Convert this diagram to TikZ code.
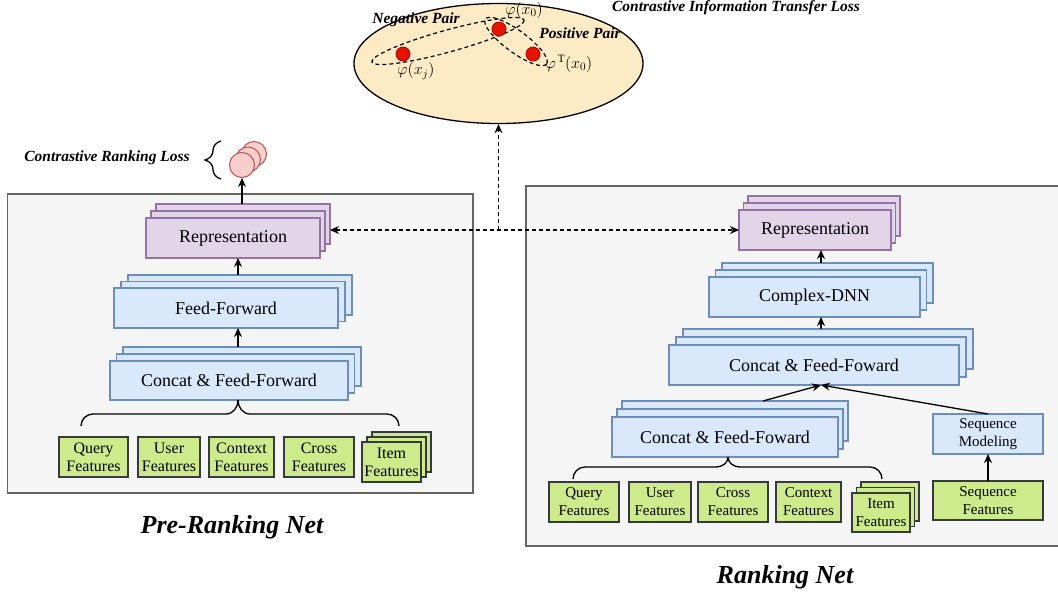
\documentclass[tikz,border=0pt]{standalone}
\usepackage{fix-cm}
\usepackage{fontspec}
\setmainfont{Liberation Serif}
\usetikzlibrary{arrows.meta,shapes.geometric,decorations.pathreplacing}
\definecolor{panelF}{HTML}{F5F5F5}
\definecolor{panelD}{HTML}{666666}
\definecolor{blueF}{HTML}{DAE8FC}
\definecolor{blueD}{HTML}{6C8EBF}
\definecolor{purpF}{HTML}{E1D5E7}
\definecolor{purpD}{HTML}{9673A6}
\definecolor{featF}{HTML}{CDEB8B}
\definecolor{featD}{HTML}{36393D}
\definecolor{lossF}{HTML}{F8CECC}
\definecolor{lossD}{HTML}{B85450}
\definecolor{ellF}{HTML}{FCEBC4}
\definecolor{dotF}{HTML}{E51400}
\definecolor{dotD}{HTML}{B20000}
\tikzset{
 base/.style={inner sep=0pt, outer sep=0pt, align=center},
 bluebox/.style={base, draw=blueD, fill=blueF, line width=1.3pt, font=\fontsize{18}{20}\selectfont},
 purpbox/.style={base, draw=purpD, fill=purpF, line width=1.3pt, font=\fontsize{18}{20}\selectfont},
 featbox/.style={base, draw=featD, fill=featF, line width=1.8pt, font=\fontsize{16}{18}\selectfont},
 featboxr/.style={featbox, font=\fontsize{15}{18}\selectfont},
 panel/.style={draw=panelD, fill=panelF, line width=1.3pt},
 arr/.style={line width=1.3pt, -{Stealth[length=9pt,width=8pt]}},
 darr/.style={line width=1.1pt, dash pattern=on 4pt off 3pt, -{Stealth[length=9pt,width=8pt]}},
 brc/.style={line width=1.3pt},
 dsh/.style={line width=1.2pt, dash pattern=on 4pt off 3pt},
 title/.style={font=\fontsize{15.5}{18}\selectfont\bfseries\itshape},
 bigtitle/.style={font=\fontsize{26}{30}\selectfont\bfseries\itshape},
 mathlbl/.style={font=\fontsize{16}{19}\selectfont, inner sep=0pt},
 lossc/.style={circle, draw=lossD, fill=lossF, line width=1pt, minimum size=25pt, inner sep=0pt},
 dot/.style={circle, draw=dotD, fill=dotF, line width=0.8pt, minimum size=14pt, inner sep=0pt},
}
% stacked box: name, style, x1, y1, x2, y2, dx, dy, text
\newcommand\stk[9]{%
 \node[#2, minimum width={(#5-#3)*1pt}, minimum height={(#6-#4)*1pt}] (#1-3) at ({(#3+#5)/2+2*#7},{(#4+#6)/2-2*#8}) {};
 \node[#2, minimum width={(#5-#3)*1pt}, minimum height={(#6-#4)*1pt}] (#1-2) at ({(#3+#5)/2+#7},{(#4+#6)/2-#8}) {};
 \node[#2, minimum width={(#5-#3)*1pt}, minimum height={(#6-#4)*1pt}] (#1) at ({(#3+#5)/2},{(#4+#6)/2}) {#9};
}
\newcommand\bx[7]{%
 \node[#2, minimum width={(#5-#3)*1pt}, minimum height={(#6-#4)*1pt}] (#1) at ({(#3+#5)/2},{(#4+#6)/2}) {#7};
}
\begin{document}
\begin{tikzpicture}[x=1pt,y=-1pt]
\useasboundingbox (0,0) rectangle (1058,598);
\fill[white] (0,0) rectangle (1058,598);

% panels
\draw[panel] (7.5,194) rectangle (473,493);
\draw[panel] (526,186) rectangle (1062,546);

% ellipse (contrastive information transfer)
\node[ellipse, draw, fill=ellF, line width=1.3pt, minimum width=289pt, minimum height=120pt, inner sep=0pt] (cit) at (498.5,63.5) {};
\draw[dsh, rotate around={15.4:(448,41)}] (448,41) ellipse [x radius=79, y radius=11];
\draw[dsh, rotate around={-36.3:(516,41.5)}] (516,41.5) ellipse [x radius=38, y radius=11];
\node[dot] (d0) at (499,29) {};
\node[dot] (dj) at (403,54) {};
\node[dot] (dt) at (533,54) {};
\node[mathlbl] (l0) at (524,10) {$\varphi(x_0)$};
\node[mathlbl] (lj) at (416,71) {$\varphi(x_j)$};
\node[mathlbl] (lt) at (569,64) {$\varphi^{\,\mathrm{T}}(x_0)$};
\node[title] (np) at (416,20) {Negative Pair};
\node[title] (pp) at (580,33) {Positive Pair};
\node[title] (citl) at (736,8) {Contrastive Information Transfer Loss};

% left net
\stk{lrep}{purpbox}{146}{218}{320}{258}{5}{7}{Representation}
\stk{lff}{bluebox}{114}{288}{338}{328}{7}{6.5}{Feed-Forward}
\stk{lcat}{bluebox}{110}{361}{348}{400}{6.5}{7}{Concat \& Feed-Forward}
\bx{lq}{featbox}{59}{437}{128}{477}{Query\\Features}
\bx{lu}{featbox}{138}{437}{200}{477}{User\\Features}
\bx{lc}{featbox}{209}{437}{274}{477}{Context\\Features}
\bx{lx}{featbox}{284}{437}{354}{477}{Cross\\Features}
\stk{li}{featbox}{362}{442}{421}{482}{5}{5}{Item\\Features}

\node[lossc] (loss3) at (254,154) {};
\node[lossc] (loss2) at (248,159.5) {};
\node[lossc] (loss1) at (242,165) {};
\node[title] (crl) at (107,158) {Contrastive Ranking Loss};
\draw[brc, decorate, decoration={brace, amplitude=16pt}] (221,179) -- (221,141);

\draw[arr] (loss1.south |- lrep-3.north) -- (loss1.south);
\draw[arr] (lrep-2.south |- lff-3.north) -- (lrep-2.south |- lrep.south);
\draw[arr] (lrep-2.south |- lcat-3.north) -- (lrep-2.south |- lff.south);

\coordinate (lb1) at (81,426);
\coordinate (lb2) at (399,426);
\coordinate (ltip) at (lrep-2.south |- lcat.south);
\draw[brc] (lb1) to[out=90,in=180] (93,414) -- (226,414) to[out=0,in=-90] (ltip);
\draw[brc] (lb2) to[out=90,in=0] (387,414) -- (250,414) to[out=180,in=-90] (ltip);

\node[bigtitle] (prn) at (232,527) {Pre-Ranking Net};

% right net
\stk{rrep}{purpbox}{739}{210}{891}{250}{4.5}{7}{Representation}
\stk{rdnn}{bluebox}{709}{277}{920}{317}{6.5}{7}{Complex-DNN}
\stk{rcat}{bluebox}{669}{345}{959}{385}{7}{8}{Concat \& Feed-Foward}
\stk{rcat2}{bluebox}{612}{417}{838}{457}{5}{8}{Concat \& Feed-Foward}
\bx{rseqm}{bluebox, font=\fontsize{15}{18}\selectfont}{933}{414}{1043}{454}{Sequence\\Modeling}
\bx{rq}{featboxr}{549}{482}{619}{522}{Query\\Features}
\bx{ru}{featboxr}{629}{482}{691}{522}{User\\Features}
\bx{rx}{featboxr}{698}{482}{768}{522}{Cross\\Features}
\bx{rc}{featboxr}{776}{482}{841}{522}{Context\\Features}
\stk{ri}{featboxr}{852}{493}{910}{532}{4.5}{5.5}{Item\\Features}
\bx{rsf}{featboxr}{933}{481}{1043}{520}{Sequence\\Features}

\draw[arr] (rdnn-2.south |- rdnn-3.north) -- (rdnn-2.south |- rrep.south);
\draw[arr] (rdnn-2.south |- rcat-3.north) -- (rdnn-2.south |- rdnn.south);
\coordinate (conv) at (rdnn-2.south |- rcat.south);
\draw[arr] ([xshift=28pt]rcat2-3.north) -- (conv);
\draw[arr] (rseqm.north) -- (conv);
\draw[arr, line width=2pt] (rsf.north) -- (rseqm.south);

\coordinate (rb1) at (573,479);
\coordinate (rb2) at (882,479);
\coordinate (rtip) at ([xshift=3pt]rcat2.south);
\draw[brc] (rb1) to[out=90,in=180] (585,467) -- (716,467) to[out=0,in=-90] (rtip);
\draw[brc] (rb2) to[out=90,in=0] (870,467) -- (740,467) to[out=180,in=-90] (rtip);

\node[bigtitle] (rn) at (785,577) {Ranking Net};

% dashed connectors
\draw[darr, {Stealth[length=9pt,width=8pt]}-{Stealth[length=9pt,width=8pt]}] (lrep-3.east |- rrep.west) -- (rrep.west);
\coordinate (mid) at (cit.south |- rrep.west);
\draw[darr] (mid) -- (cit.south);
\end{tikzpicture}
\end{document}
